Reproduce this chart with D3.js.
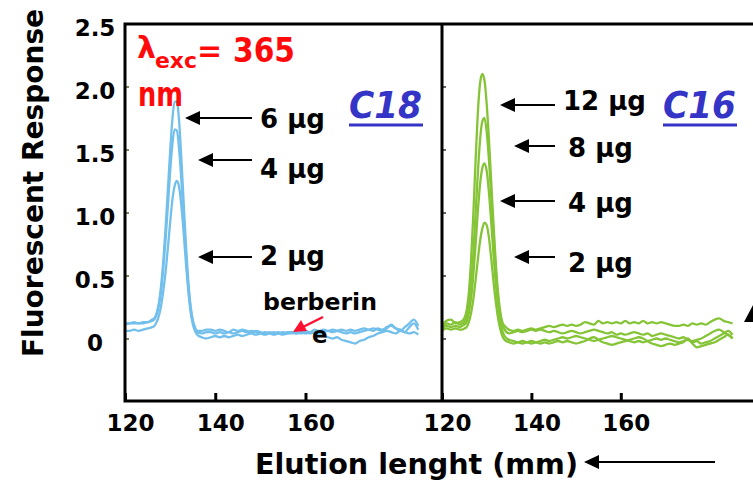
<!DOCTYPE html>
<html><head><meta charset="utf-8">
<script src="https://cdn.jsdelivr.net/npm/d3@7"></script>
<style>
body{margin:0;background:#fff;}
svg{display:block;font-family:"DejaVu Sans",sans-serif;font-weight:bold;}
</style></head>
<body><svg id="c" width="753" height="484"></svg>
<script>
// ---------- DATA ----------
const yTicks = [0, 0.5, 1.0, 1.5, 2.0, 2.5];
const yTickLabels = ["0", "0.5", "1.0", "1.5", "2.0", "2.5"];
const xTicks = [120, 140, 160];
const xTickLabels = ["120", "140", "160"];

// C18 column (left panel) – elution length (mm)
const c18X = [120,121,122,123,124,125,126,126.5,127,127.5,128,128.5,129,129.5,130,130.5,131,131.5,132,132.5,133,133.5,134,134.5,135,135.5,136,
  137,138,139,140,141,142,143,144,145,146,147,148,149,150,151,152,153,154,155,156,157,158,159,160,161,162,163,164,165,166,167,168,169,170,171,172,173,174,175,176,177,178,179,180,181,182,183,184,185];
const c18_6ug = [0.12,0.12,0.13,0.12,0.13,0.13,0.15,0.16,0.2,0.28,0.42,0.62,0.88,1.18,1.48,1.74,1.88,1.88,1.72,1.42,1.08,0.75,0.47,0.27,0.15,0.09,0.06,
  0.06,0.07,0.07,0.06,0.07,0.06,0.05,0.07,0.06,0.07,0.06,0.05,0.06,0.05,0.04,0.05,0.04,0.05,0.04,0.05,0.05,0.04,0.05,0.06,0.05,0.07,0.06,0.07,0.06,0.07,0.06,0.05,0.04,0.05,0.04,0.05,0.06,0.07,0.06,0.08,0.07,0.09,0.1,0.08,0.07,0.05,0.09,0.12,0.07];
const c18_4ug = [0.11,0.12,0.12,0.12,0.12,0.13,0.14,0.15,0.19,0.26,0.38,0.56,0.79,1.05,1.32,1.54,1.66,1.65,1.5,1.25,0.95,0.66,0.42,0.25,0.14,0.08,0.05,
  0.04,0.05,0.05,0.04,0.05,0.04,0.05,0.04,0.05,0.06,0.05,0.06,0.05,0.04,0.05,0.04,0.05,0.04,0.05,0.04,0.04,0.05,0.04,0.05,0.04,0.05,0.04,0.05,0.06,0.05,0.06,0.07,0.06,0.07,0.06,0.07,0.08,0.07,0.08,0.07,0.06,0.08,0.11,0.08,0.06,0.09,0.12,0.15,0.1];
const c18_2ug = [0.06,0.06,0.07,0.06,0.07,0.08,0.09,0.1,0.13,0.18,0.26,0.38,0.53,0.72,0.92,1.1,1.21,1.25,1.2,1.05,0.84,0.6,0.39,0.22,0.12,0.06,0.03,
  0.01,0.0,0.01,0.02,0.01,0.02,0.01,0.02,0.03,0.02,0.03,0.04,0.03,0.04,0.03,0.04,0.03,0.04,0.03,0.04,0.05,0.04,0.05,0.04,0.05,0.04,0.03,0.02,0.01,0.0,0.01,-0.01,-0.02,-0.03,-0.04,-0.02,-0.01,0.01,0.02,0.04,0.05,0.06,0.05,0.04,0.06,0.05,0.04,0.05,0.03];

// C16 column (right panel)
const c16X = [120,121,122,123,124,124.5,125,125.5,126,126.5,127,127.5,128,128.5,129,129.5,130,130.5,131,131.5,132,132.5,133,133.5,134,
  135,136,137,138,139,140,141,142,143,144,145,146,147,148,149,150,151,152,153,154,155,156,157,158,159,160,161,162,163,164,165,166,167,168,169,170,171,172,173,174,175,176,177,178,179,180,181,182,183,184,185];
const c16_12ug = [0.1,0.14,0.15,0.12,0.13,0.14,0.16,0.22,0.36,0.62,0.98,1.4,1.78,2.02,2.1,2.05,1.86,1.58,1.25,0.92,0.62,0.38,0.22,0.13,0.1,
  0.07,0.06,0.07,0.06,0.07,0.08,0.07,0.08,0.09,0.1,0.09,0.1,0.11,0.1,0.11,0.1,0.11,0.13,0.12,0.11,0.14,0.12,0.13,0.12,0.13,0.12,0.14,0.12,0.13,0.12,0.14,0.12,0.13,0.12,0.13,0.12,0.11,0.1,0.1,0.11,0.1,0.12,0.11,0.12,0.11,0.13,0.15,0.16,0.14,0.13,0.12];
const c16_8ug = [0.08,0.12,0.11,0.13,0.11,0.12,0.13,0.17,0.26,0.42,0.66,0.98,1.3,1.57,1.72,1.75,1.64,1.42,1.14,0.84,0.56,0.34,0.19,0.11,0.07,
  0.04,0.05,0.06,0.05,0.06,0.07,0.06,0.07,0.06,0.05,0.06,0.05,0.04,0.05,0.06,0.05,0.04,0.05,0.06,0.07,0.06,0.05,0.04,0.05,0.03,0.04,0.03,0.04,0.05,0.04,0.03,0.04,0.02,0.03,0.04,0.03,0.02,0.01,0.0,0.01,-0.01,-0.02,-0.01,0.0,0.02,0.04,0.06,0.07,0.05,0.03,0.0];
const c16_4ug = [0.07,0.1,0.09,0.1,0.09,0.1,0.11,0.13,0.2,0.32,0.5,0.74,1.0,1.22,1.35,1.39,1.33,1.16,0.93,0.68,0.45,0.27,0.14,0.06,0.02,
  -0.01,-0.02,-0.03,-0.02,-0.03,-0.02,-0.03,-0.02,-0.01,-0.02,-0.01,0.0,0.01,0.0,0.01,0.02,0.01,0.0,-0.01,-0.02,-0.01,0.0,0.01,0.02,0.01,0.0,-0.01,-0.02,-0.03,-0.02,-0.03,-0.02,-0.01,0.0,-0.01,0.0,-0.01,-0.02,-0.03,-0.02,-0.01,-0.03,-0.02,-0.04,-0.03,-0.02,0.0,0.02,0.04,0.06,0.03];
const c16_2ug = [0.06,0.08,0.07,0.08,0.07,0.07,0.08,0.09,0.13,0.2,0.31,0.46,0.62,0.77,0.87,0.92,0.9,0.8,0.64,0.46,0.3,0.17,0.08,0.02,-0.01,
  -0.03,-0.04,-0.03,-0.04,-0.03,-0.04,-0.03,-0.04,-0.03,-0.04,-0.03,-0.02,-0.03,-0.02,-0.03,-0.04,-0.03,-0.02,0.0,0.01,-0.01,-0.03,-0.04,-0.05,-0.04,-0.03,-0.02,-0.01,0.0,0.01,0.0,-0.02,-0.04,-0.05,-0.06,-0.05,-0.04,-0.05,-0.04,-0.03,0.0,-0.04,-0.07,-0.06,-0.05,-0.04,-0.03,-0.01,0.01,0.03,0.0];

const c18Labels = ["6 μg", "4 μg", "2 μg"];
const c16Labels = ["12 μg", "8 μg", "4 μg", "2 μg"];
const yTitle = "Fluorescent Response";
const xTitle = "Elution lenght (mm)";

// ---------- DRAW ----------
const svg = d3.select("#c");
const BLUE = "#72bfec", GREEN = "#85c436", RED = "#ff0a0a", TITLEBLUE = "#3434c6";

const y = d3.scaleLinear().domain([-0.5, 2.5]).range([401.5, 23.5]);
const xL = d3.scaleLinear().domain([120, 160]).range([125, 305.5]);
const xR = d3.scaleLinear().domain([120, 160]).range([442, 620.8]);

function drawTraces(xs, series, color, xScale) {
  const line = d3.line().x((d, i) => xScale(xs[i])).y(d => y(d)).curve(d3.curveMonotoneX);
  svg.append("g").selectAll("path").data(series).join("path")
    .attr("d", d => line(d)).attr("fill", "none").attr("stroke", color)
    .attr("stroke-width", 2.3).attr("stroke-linejoin", "round");
}
drawTraces(c18X, [c18_2ug, c18_4ug, c18_6ug], BLUE, xL);
drawTraces(c16X, [c16_2ug, c16_4ug, c16_8ug, c16_12ug], GREEN, xR);

// y axis (left panel) with tiny inward ticks
const ya = svg.append("g").attr("transform", "translate(125,0)")
  .call(d3.axisLeft(y).tickValues(yTicks).tickSize(-4).tickFormat((d, i) => yTickLabels[i]));
ya.select(".domain").remove();
ya.selectAll("line").attr("stroke", "#5a5a20").attr("stroke-width", 1.5);
ya.selectAll("text").attr("x", -30).attr("dy", "0.9em").attr("transform", "translate(0,-9)")
  .attr("text-anchor", "middle").attr("font-size", 23).attr("font-family", "DejaVu Sans").attr("font-weight", "bold").attr("fill", "#000");
// tiny ticks for right panel
const yb = svg.append("g").attr("transform", "translate(442,0)")
  .call(d3.axisLeft(y).tickValues(yTicks.slice(0, 5)).tickSize(-4).tickFormat(""));
yb.select(".domain").remove();
yb.selectAll("line").attr("stroke", "#333").attr("stroke-width", 1.5);

function xAxis(scale) {
  const g = svg.append("g").attr("transform", "translate(0,401)")
    .call(d3.axisBottom(scale).tickValues(xTicks).tickSize(-8).tickFormat((d, i) => xTickLabels[i]));
  g.select(".domain").remove();
  g.selectAll("line").attr("stroke", "#000").attr("stroke-width", 3);
  g.selectAll("text").attr("x", 5).attr("y", 22).attr("dy", "0.35em")
    .attr("font-size", 23).attr("font-family", "DejaVu Sans").attr("font-weight", "bold").attr("fill", "#000");
}
xAxis(xL); xAxis(xR);

// frames
const frame = svg.append("g").attr("stroke", "#000").attr("stroke-width", 3).attr("fill", "none");
frame.append("path").attr("d", "M125,24 L753,24 M125,401 L753,401 M125,22.5 L125,402.5 M442,22.5 L442,402.5");

// axis titles
svg.append("text").attr("transform", "translate(43,183) rotate(-90)")
  .attr("text-anchor", "middle").attr("font-size", 28).attr("font-weight", 900).text(yTitle);
svg.append("text").attr("x", 255).attr("y", 474).attr("font-size", 29)
  .attr("textLength", 323).attr("lengthAdjust", "spacingAndGlyphs").text(xTitle);

// arrows
function arrow(x1, x2, yy, color, head) {
  const h = head || 15;
  svg.append("line").attr("x1", x1 + h - 2).attr("x2", x2).attr("y1", yy).attr("y2", yy)
    .attr("stroke", color).attr("stroke-width", 2);
  svg.append("path").attr("d", `M${x1},${yy} L${x1 + h},${yy - 7} L${x1 + h},${yy + 7} Z`).attr("fill", color);
}
arrow(584, 715, 462, "#000");

// C18 annotations
const c18Arrows = [[185, 118], [198, 160], [198, 257]];
const c18Text = [128, 178, 265];
c18Labels.forEach((t, i) => {
  arrow(c18Arrows[i][0], 252, c18Arrows[i][1], "#000");
  svg.append("text").attr("x", 260).attr("y", c18Text[i]).attr("font-size", 26).text(t);
});
// C16 annotations
const c16Arrows = [[500, 105], [514, 146], [500, 201], [514, 257]];
const c16Text = [[563, 110], [568, 157], [568, 212], [568, 272]];
c16Labels.forEach((t, i) => {
  arrow(c16Arrows[i][0], 555, c16Arrows[i][1], "#000");
  svg.append("text").attr("x", c16Text[i][0]).attr("y", c16Text[i][1]).attr("font-size", 26).text(t);
});

// berberine label
svg.append("text").attr("x", 263).attr("y", 310).attr("font-size", 23)
  .attr("textLength", 114).attr("lengthAdjust", "spacingAndGlyphs").text("berberin");
svg.append("text").attr("x", 312).attr("y", 343).attr("font-size", 23).text("e");
svg.append("line").attr("x1", 323).attr("y1", 317).attr("x2", 303).attr("y2", 327)
  .attr("stroke", "#ff1030").attr("stroke-width", 2.5);
svg.append("path").attr("d", "M293,332 L301,320 L307,331 Z").attr("fill", "#ff1030");

// excitation wavelength
svg.append("text").attr("x", 137).attr("y", 58).attr("font-size", 30).attr("fill", RED).text("λ");
svg.append("text").attr("x", 155).attr("y", 68).attr("font-size", 21).attr("fill", RED)
  .attr("textLength", 42).attr("lengthAdjust", "spacingAndGlyphs").text("exc");
svg.append("text").attr("x", 197).attr("y", 61).attr("font-size", 30).attr("fill", RED).text("=");
svg.append("text").attr("x", 233).attr("y", 62).attr("font-size", 34).attr("fill", RED)
  .attr("textLength", 62).attr("lengthAdjust", "spacingAndGlyphs").text("365");
svg.append("text").attr("x", 138).attr("y", 106).attr("font-size", 34).attr("fill", RED)
  .attr("textLength", 45).attr("lengthAdjust", "spacingAndGlyphs").text("nm");

// column names
[["C18", 349], ["C16", 663]].forEach(([t, x0]) => {
  svg.append("text").attr("x", x0).attr("y", 118).attr("font-size", 37).attr("font-style", "italic")
    .attr("fill", TITLEBLUE).attr("textLength", 73).attr("lengthAdjust", "spacingAndGlyphs").text(t);
  svg.append("line").attr("x1", x0).attr("x2", x0 + 74).attr("y1", 125).attr("y2", 125)
    .attr("stroke", TITLEBLUE).attr("stroke-width", 3);
});

// partial arrowhead at right edge
svg.append("path").attr("d", "M744,322 L753,305 L753,322 Z").attr("fill", "#000");
</script></body></html>
